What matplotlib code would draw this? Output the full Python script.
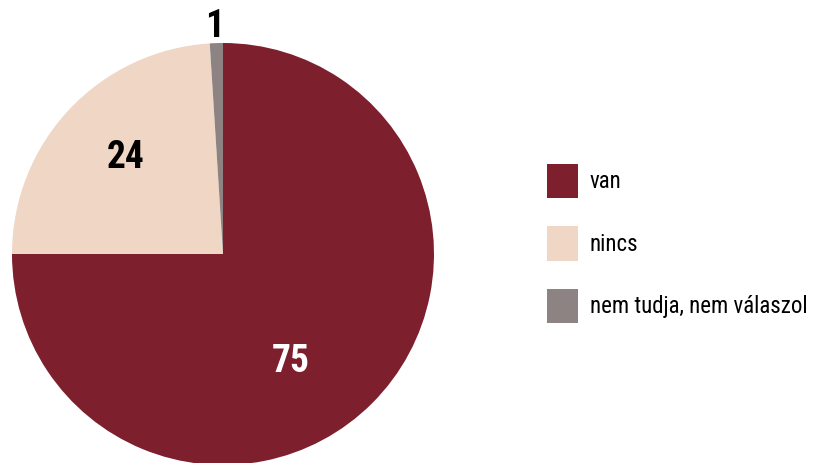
# Pie chart: van / nincs / nem tudja, nem válaszol
import matplotlib
matplotlib.use('Agg')
from matplotlib import pyplot as plt
from matplotlib.patches import Patch

labels = ['van', 'nincs', 'nem tudja, nem válaszol']
values = [75, 24, 1]
colors = ['#7d1f2d', '#efd6c5', '#8c8382']

plt.rcParams['font.family'] = ['Roboto Condensed', 'DejaVu Sans']
plt.rcParams['font.stretch'] = 'condensed'

fig = plt.figure(figsize=(8.14, 4.63), dpi=100)
# pie centred at (223, 254) px with radius 211 px
ax = fig.add_axes([12 / 814, -2 / 463, 422 / 814, 422 / 463])
ax.pie(values, colors=colors, startangle=90, counterclock=False,
       radius=1, wedgeprops=dict(linewidth=0))
ax.set_xlim(-1, 1)
ax.set_ylim(-1, 1)
ax.set_aspect('equal')
ax.axis('off')

# value labels
ax.text(0.32, -0.51, '75', color='white', fontsize=27, fontweight='bold',
        ha='center', va='center')
ax.text(-0.46, 0.455, '24', color='black', fontsize=27, fontweight='bold',
        ha='center', va='center')
ax.text(-0.04, 1.08, '1', color='black', fontsize=27, fontweight='bold',
        ha='center', va='center', clip_on=False)

handles = [Patch(facecolor=c, edgecolor='none') for c in colors]
fig.legend(handles, labels, loc='upper left',
           bbox_to_anchor=(547 / 814, 1 - 164 / 463),
           frameon=False, fontsize=16.5, handlelength=1.35, handleheight=1.93,
           labelspacing=1.22, handletextpad=0.52, borderpad=0,
           borderaxespad=0)

fig.savefig('out.png', dpi=100)
